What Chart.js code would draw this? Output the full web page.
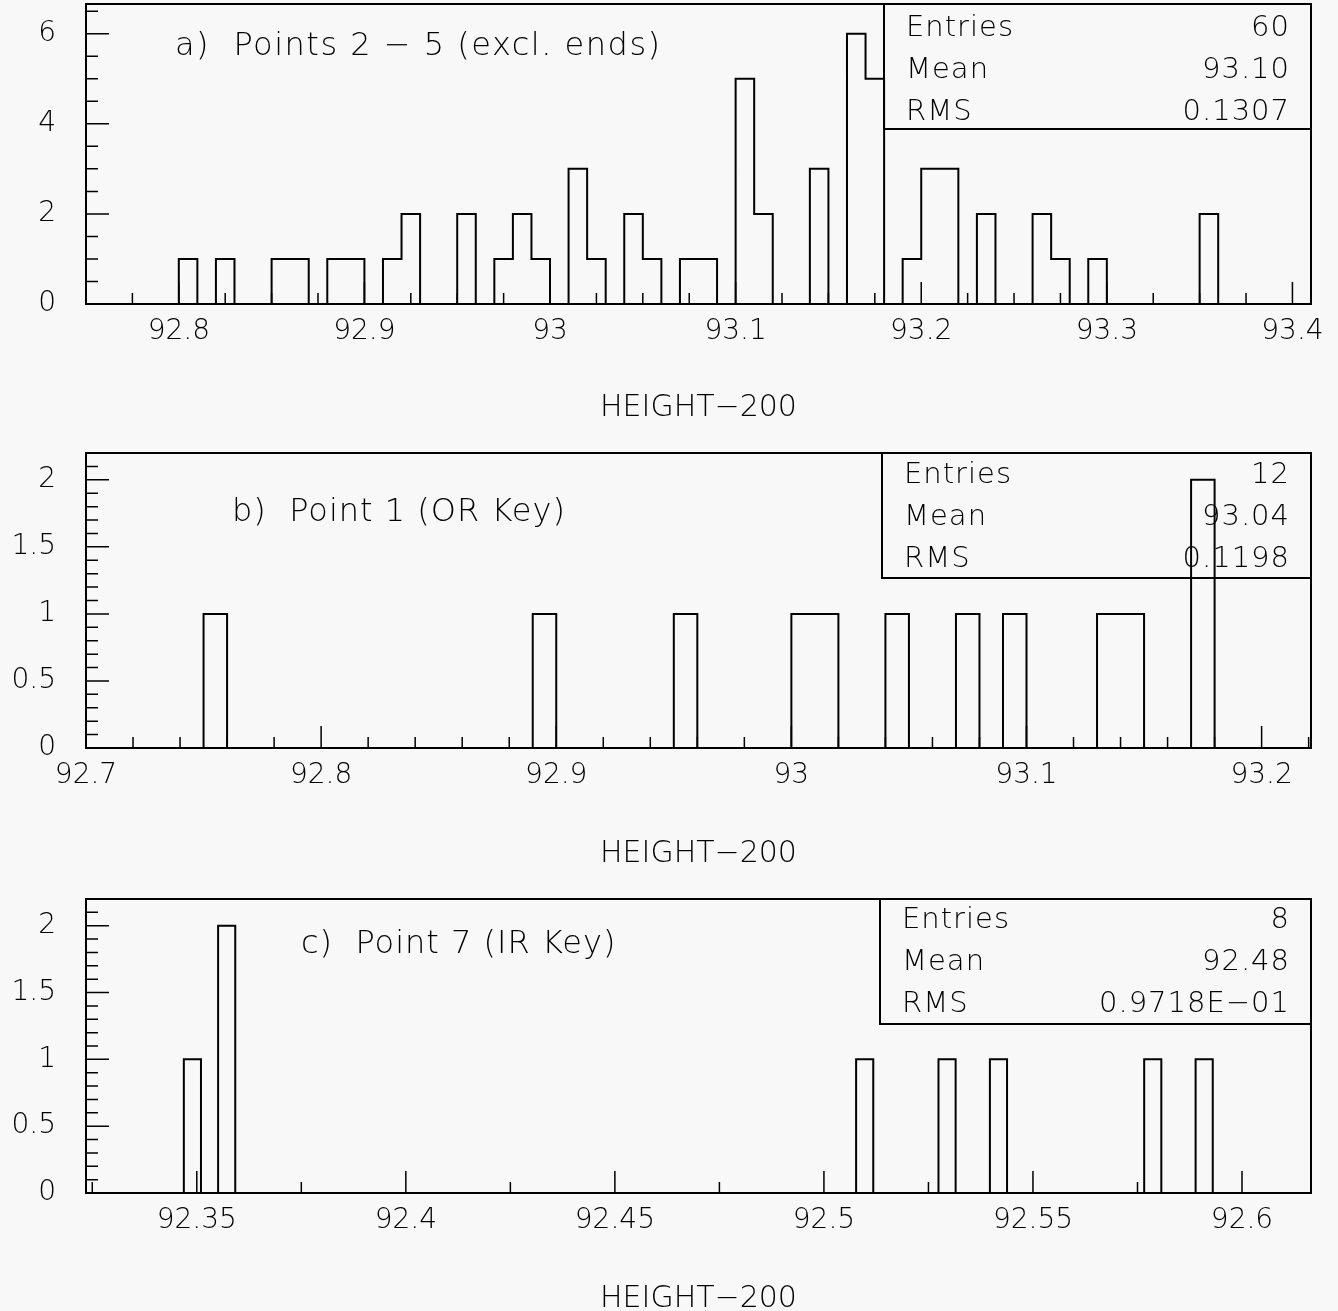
<!DOCTYPE html>
<html>
<head>
<meta charset="utf-8">
<script src="https://cdn.jsdelivr.net/npm/chart.js@4.4.1/dist/chart.umd.min.js"></script>
<style>
html, body { margin:0; padding:0; background:#f8f8f8; overflow:hidden; }
.panel { position:absolute; left:0; width:1338px; height:446px; }
</style>
</head>
<body>
<div class="panel" style="top:0px"><canvas id="histA"></canvas></div>
<div class="panel" style="top:449px"><canvas id="histB"></canvas></div>
<div class="panel" style="top:895px"><canvas id="histC"></canvas></div>
<script>
// bin lower edges (HEIGHT-200) and entries per bin
var binsA = [92.80, 92.82, 92.85, 92.86, 92.88, 92.89, 92.91, 92.92, 92.95, 92.97, 92.98, 92.99,
             93.01, 93.02, 93.04, 93.05, 93.07, 93.08, 93.10, 93.11, 93.14, 93.16, 93.17, 93.19,
             93.20, 93.21, 93.23, 93.26, 93.27, 93.29, 93.35];
var countsA = [1,1,1,1,1,1,1,2,2,1,2,1, 3,1,2,1,1,1,5,2,3,6,5,1, 3,3,2,2,1,1,2];
var widthA = 0.01;

var binsB = [92.75, 92.89, 92.95, 93.00, 93.01, 93.04, 93.07, 93.09, 93.13, 93.14, 93.17];
var countsB = [1,1,1,1,1,1,1,1,1,1,2];
var widthB = 0.01;

var binsC = [92.3469, 92.3551, 92.5077, 92.5274, 92.5397, 92.5766, 92.5889];
var countsC = [1,2,1,1,1,1,1];
var widthC = 0.0041;

// stats boxes
var statNames = ['Entries', 'Mean', 'RMS'];
var statsA = ['60', '93.10', '0.1307'];
var statsB = ['12', '93.04', '0.1198'];
var statsC = ['8', '92.48', '0.9718E\u221201'];

// tick labels
var xTicksA = ['92.8', '92.9', '93', '93.1', '93.2', '93.3', '93.4'];
var xTicksB = ['92.7', '92.8', '92.9', '93', '93.1', '93.2'];
var xTicksC = ['92.35', '92.4', '92.45', '92.5', '92.55', '92.6'];
var yTicksA = ['0', '2', '4', '6'];
var yTicksBC = ['0', '0.5', '1', '1.5', '2'];

var FONT = '"DejaVu Sans", "Liberation Sans", sans-serif';

function outline(los, counts, w) {
  var pts = [];
  for (var i = 0; i < los.length; i++) {
    var lo = los[i], hi = lo + w;
    var prevAdj = i > 0 && Math.abs(los[i-1] + w - lo) < w / 10;
    var nextAdj = i < los.length - 1 && Math.abs(hi - los[i+1]) < w / 10;
    if (!prevAdj) pts.push({x: lo, y: 0});
    pts.push({x: lo, y: counts[i]});
    pts.push({x: hi, y: counts[i]});
    if (!nextAdj) pts.push({x: hi, y: 0});
  }
  return pts;
}

// minor ticks every `minor`, big ones where a label exists
function tickBuilder(labels, minor) {
  var majors = labels.map(parseFloat);
  return function(scale) {
    var out = [];
    var start = Math.ceil(scale.min / minor - 1e-6);
    for (var k = start; k * minor <= scale.max + 1e-9; k++) {
      var v = Math.round(k * minor * 1e6) / 1e6;
      var big = majors.some(function(m){ return Math.abs(m - v) < 1e-6; });
      out.push({value: v, big: big});
    }
    scale.ticks = out;
  };
}
function tickLabel(labels) {
  return function(value, index, ticks) {
    for (var i = 0; i < labels.length; i++) {
      if (Math.abs(parseFloat(labels[i]) - value) < 1e-6) return labels[i];
    }
    return '';
  };
}

var histDecor = {
  id: 'histDecor',
  afterDraw: function(chart, args, opts) {
    var ctx = chart.ctx, a = chart.chartArea;
    var xs = chart.scales.x, ys = chart.scales.y;
    ctx.save();
    ctx.strokeStyle = '#000';
    ctx.lineWidth = 2;
    ctx.strokeRect(a.left, a.top, a.right - a.left, a.bottom - a.top);

    // ticks pointing into the frame
    ctx.lineWidth = 1.5;
    ctx.beginPath();
    xs.ticks.forEach(function(t) {
      var px = xs.getPixelForValue(t.value);
      if (px <= a.left + 1 || px >= a.right - 1) return;
      ctx.moveTo(px, a.bottom);
      ctx.lineTo(px, a.bottom - (t.big ? 22 : 11));
    });
    ys.ticks.forEach(function(t) {
      var py = ys.getPixelForValue(t.value);
      if (py >= a.bottom - 1 || py <= a.top + 1) return;
      ctx.moveTo(a.left, py);
      ctx.lineTo(a.left + (t.big ? 23 : 12), py);
    });
    ctx.stroke();

    // stats box
    ctx.lineWidth = 2;
    ctx.beginPath();
    ctx.moveTo(opts.boxLeft, a.top);
    ctx.lineTo(opts.boxLeft, a.top + 125);
    ctx.lineTo(a.right, a.top + 125);
    ctx.stroke();
    ctx.fillStyle = '#000';
    ctx.font = '200 29px ' + FONT;
    ctx.letterSpacing = '1px';
    ctx.textBaseline = 'middle';
    for (var i = 0; i < statNames.length; i++) {
      var y = a.top + opts.rowTop + i * 42;
      ctx.textAlign = 'left';
      ctx.fillText(statNames[i], opts.boxLeft + 22, y);
      ctx.textAlign = 'right';
      ctx.fillText(opts.stats[i], a.right - 21, y);
    }

    // panel caption
    ctx.font = '200 32px ' + FONT;
    ctx.letterSpacing = opts.capSpacing;
    ctx.textAlign = 'left';
    ctx.fillText(opts.caption, opts.capX, opts.capY);
    ctx.restore();
  }
};

function makeHist(id, d) {
  return new Chart(document.getElementById(id), {
    type: 'scatter',
    data: {
      datasets: [{
        data: outline(d.bins, d.counts, d.width),
        showLine: true,
        borderColor: '#000',
        borderWidth: 2,
        pointRadius: 0,
        tension: 0
      }]
    },
    options: {
      responsive: true,
      maintainAspectRatio: false,
      animation: false,
      layout: { padding: { top: 4, right: 27, left: 0, bottom: 0 } },
      scales: {
        x: {
          type: 'linear', min: d.xmin, max: d.xmax,
          grid: { display: false, drawTicks: false },
          border: { display: false },
          afterBuildTicks: tickBuilder(d.xTicks, d.xMinor),
          afterFit: function(s) { s.height = d.xAxisH; s.paddingLeft = 0; s.paddingRight = 0; },
          ticks: { autoSkip: false, maxRotation: 0, padding: 11, color: '#000',
                   font: { family: FONT, size: 28, weight: 200 },
                   callback: tickLabel(d.xTicks) },
          title: { display: true, text: 'HEIGHT\u2212200', color: '#000',
                   font: { family: FONT, size: 30, weight: 200 },
                   padding: { top: 0, bottom: d.titleBottom } }
        },
        y: {
          type: 'linear', min: 0, max: d.ymax,
          grid: { display: false, drawTicks: false },
          border: { display: false },
          afterBuildTicks: tickBuilder(d.yTicks, d.yMinor),
          afterFit: function(s) { s.width = 86; s.paddingTop = 0; s.paddingBottom = 0; },
          ticks: { autoSkip: false, padding: 30, color: '#000',
                   font: { family: FONT, size: 28, weight: 200 },
                   callback: tickLabel(d.yTicks) }
        }
      },
      plugins: {
        legend: { display: false },
        tooltip: { enabled: false },
        histDecor: { boxLeft: d.boxLeft, stats: d.stats, rowTop: d.rowTop,
                     caption: d.caption, capX: d.capX, capY: d.capY, capSpacing: d.capSpacing }
      }
    },
    plugins: [histDecor]
  });
}

makeHist('histA', {
  bins: binsA, counts: countsA, width: widthA,
  xmin: 92.75, xmax: 93.41, xTicks: xTicksA, xMinor: 0.025, xAxisH: 142, titleBottom: 20,
  ymax: 6.66, yTicks: yTicksA, yMinor: 0.5,
  boxLeft: 884, stats: statsA, rowTop: 24,
  caption: 'a)  Points 2 \u2212 5 (excl. ends)', capX: 175, capY: 47, capSpacing: '1.5px'
});
makeHist('histB', {
  bins: binsB, counts: countsB, width: widthB,
  xmin: 92.7, xmax: 93.221, xTicks: xTicksB, xMinor: 0.02, xAxisH: 147, titleBottom: 23,
  ymax: 2.2, yTicks: yTicksBC, yMinor: 0.1,
  boxLeft: 882, stats: statsB, rowTop: 22,
  caption: 'b)  Point 1 (OR Key)', capX: 232, capY: 64, capSpacing: '1px'
});
makeHist('histC', {
  bins: binsC, counts: countsC, width: widthC,
  xmin: 92.3235, xmax: 92.6165, xTicks: xTicksC, xMinor: 0.025, xAxisH: 148, titleBottom: 24,
  ymax: 2.2, yTicks: yTicksBC, yMinor: 0.1,
  boxLeft: 880, stats: statsC, rowTop: 21,
  caption: 'c)  Point 7 (IR Key)', capX: 301, capY: 50, capSpacing: '1px'
});
</script>
</body>
</html>
